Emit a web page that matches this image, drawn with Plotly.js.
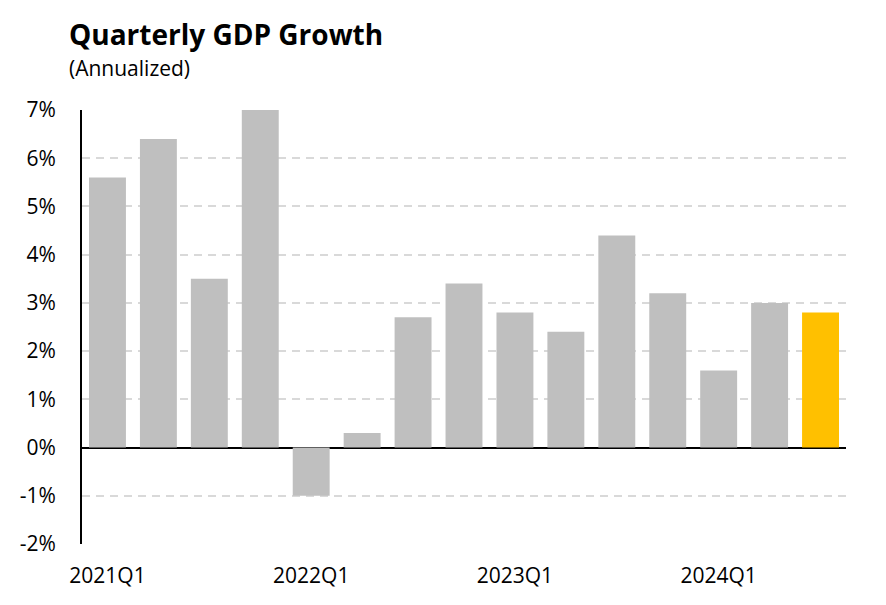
<!DOCTYPE html>
<html>
<head>
<meta charset="utf-8">
<script src="https://cdn.plot.ly/plotly-3.0.1.min.js"></script>
<style>
  html, body { margin: 0; padding: 0; background: #fff; }
  #chart { width: 886px; height: 605px; }
</style>
</head>
<body>
<div id="chart"></div>
<script>
// Quarterly real GDP growth, annualized (%)
const quarters = ["2021Q1", "2021Q2", "2021Q3", "2021Q4",
                  "2022Q1", "2022Q2", "2022Q3", "2022Q4",
                  "2023Q1", "2023Q2", "2023Q3", "2023Q4",
                  "2024Q1", "2024Q2", "2024Q3"];
const growth = [5.6, 6.4, 3.5, 7.0, -1.0, 0.3, 2.7, 3.4, 2.8, 2.4, 4.4, 3.2, 1.6, 3.0, 2.8];
const xTickLabels = ["2021Q1", "2022Q1", "2023Q1", "2024Q1"];
const yTickValues = [-2, -1, 0, 1, 2, 3, 4, 5, 6, 7];

const FONT = "Open Sans, Lato, sans-serif";
const GREY = "#bfbfbf";
const HIGHLIGHT = "#ffc000";

// latest quarter highlighted
const barColors = growth.map((_, i) => i === growth.length - 1 ? HIGHLIGHT : GREY);

const trace = {
  type: "bar",
  x: quarters,
  y: growth,
  marker: { color: barColors, line: { width: 0 } },
  hoverinfo: "x+y"
};

const plotW = 886 - 82 - 40;

const layout = {
  width: 886,
  height: 605,
  margin: { l: 82, r: 40, t: 110, b: 61 },
  paper_bgcolor: "#ffffff",
  plot_bgcolor: "#ffffff",
  showlegend: false,
  bargap: 0.275,
  font: { family: FONT, color: "#000000", size: 21 },
  xaxis: {
    type: "category",
    range: [-0.5, 14.5],
    tickmode: "array",
    tickvals: xTickLabels,
    ticktext: xTickLabels,
    ticks: "outside",
    ticklen: 13,
    tickcolor: "rgba(0,0,0,0)",
    showgrid: false,
    showline: false,
    zeroline: false,
    tickfont: { family: FONT, size: 21, color: "#000" },
    fixedrange: true
  },
  yaxis: {
    range: [-2, 7],
    tickmode: "array",
    tickvals: yTickValues,
    ticktext: yTickValues.map(v => v + "%"),
    ticks: "outside",
    ticklen: 20,
    tickcolor: "rgba(0,0,0,0)",
    showgrid: true,
    gridcolor: "#d9d9d9",
    gridwidth: 2,
    griddash: "8px,6px",
    showline: true,
    linecolor: "#000000",
    linewidth: 2,
    zeroline: true,
    zerolinecolor: "#000000",
    zerolinewidth: 2,
    tickfont: { family: FONT, size: 21, color: "#000" },
    fixedrange: true
  },
  annotations: [
    {
      text: "<b>Quarterly GDP Growth</b>",
      xref: "paper", yref: "paper",
      x: (67 - 82) / plotW, y: 1,
      xanchor: "left", yanchor: "middle",
      yshift: 110 - 34,
      showarrow: false,
      font: { family: FONT, size: 28, color: "#000" }
    },
    {
      text: "(Annualized)",
      xref: "paper", yref: "paper",
      x: (67 - 82) / plotW, y: 1,
      xanchor: "left", yanchor: "middle",
      yshift: 110 - 68,
      showarrow: false,
      font: { family: FONT, size: 21, color: "#000" }
    }
  ]
};

Plotly.newPlot("chart", [trace], layout, { displayModeBar: false, staticPlot: true });
</script>
</body>
</html>
